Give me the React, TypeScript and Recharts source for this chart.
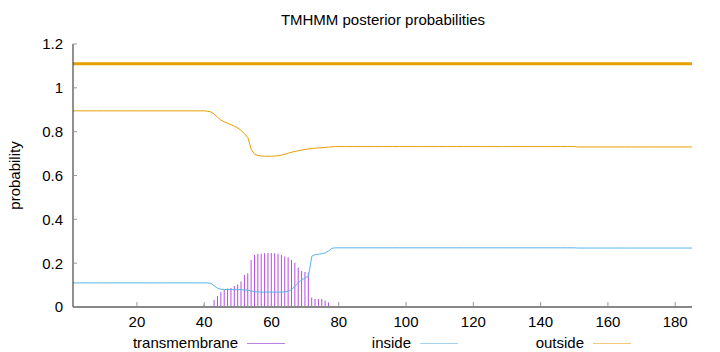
import { Bar, ComposedChart, Line, ReferenceLine, XAxis, YAxis } from "recharts";

// per-residue posterior probabilities, residue 1..185
const outside = [
  0.895, 0.895, 0.895, 0.895, 0.895, 0.895, 0.895, 0.895, 0.895, 0.895,
  0.895, 0.895, 0.895, 0.895, 0.895, 0.895, 0.895, 0.895, 0.895, 0.895,
  0.895, 0.895, 0.895, 0.895, 0.895, 0.895, 0.895, 0.895, 0.895, 0.895,
  0.895, 0.895, 0.895, 0.895, 0.895, 0.895, 0.895, 0.895, 0.895, 0.895,
  0.893, 0.89, 0.88, 0.865, 0.852, 0.845, 0.838, 0.832, 0.825, 0.817,
  0.805, 0.79, 0.772, 0.718, 0.697, 0.691, 0.689, 0.688, 0.688, 0.688,
  0.689, 0.69, 0.693, 0.697, 0.702, 0.706, 0.71, 0.713, 0.716, 0.719,
  0.721, 0.723, 0.725, 0.726, 0.727, 0.728, 0.73, 0.731, 0.732, 0.732,
  0.732, 0.732, 0.732, 0.732, 0.732, 0.732, 0.732, 0.732, 0.732, 0.732,
  0.732, 0.732, 0.732, 0.732, 0.732, 0.732, 0.732, 0.732, 0.732, 0.732,
  0.732, 0.732, 0.732, 0.732, 0.732, 0.732, 0.732, 0.732, 0.732, 0.732,
  0.732, 0.732, 0.732, 0.732, 0.732, 0.732, 0.732, 0.732, 0.732, 0.732,
  0.732, 0.732, 0.732, 0.732, 0.732, 0.732, 0.732, 0.732, 0.732, 0.732,
  0.732, 0.732, 0.732, 0.732, 0.732, 0.732, 0.732, 0.732, 0.732, 0.732,
  0.732, 0.732, 0.732, 0.732, 0.732, 0.732, 0.732, 0.732, 0.732, 0.732,
  0.73, 0.73, 0.73, 0.73, 0.73, 0.73, 0.73, 0.73, 0.73, 0.73,
  0.73, 0.73, 0.73, 0.73, 0.73, 0.73, 0.73, 0.73, 0.73, 0.73,
  0.73, 0.73, 0.73, 0.73, 0.73, 0.73, 0.73, 0.73, 0.73, 0.73,
  0.73, 0.73, 0.73, 0.73, 0.73,
];

const inside = [
  0.11, 0.11, 0.11, 0.11, 0.11, 0.11, 0.11, 0.11, 0.11, 0.11,
  0.11, 0.11, 0.11, 0.11, 0.11, 0.11, 0.11, 0.11, 0.11, 0.11,
  0.11, 0.11, 0.11, 0.11, 0.11, 0.11, 0.11, 0.11, 0.11, 0.11,
  0.11, 0.11, 0.11, 0.11, 0.11, 0.11, 0.11, 0.11, 0.11, 0.11,
  0.11, 0.108, 0.096, 0.085, 0.081, 0.08, 0.08, 0.08, 0.079, 0.079,
  0.079, 0.078, 0.077, 0.073, 0.07, 0.069, 0.068, 0.068, 0.068, 0.068,
  0.068, 0.068, 0.068, 0.069, 0.072, 0.08, 0.095, 0.11, 0.124, 0.133,
  0.14, 0.232, 0.239, 0.241, 0.243, 0.247, 0.256, 0.268, 0.27, 0.27,
  0.27, 0.27, 0.27, 0.27, 0.27, 0.27, 0.27, 0.27, 0.27, 0.27,
  0.27, 0.27, 0.27, 0.27, 0.27, 0.27, 0.27, 0.27, 0.27, 0.27,
  0.27, 0.27, 0.27, 0.27, 0.27, 0.27, 0.27, 0.27, 0.27, 0.27,
  0.27, 0.27, 0.27, 0.27, 0.27, 0.27, 0.27, 0.27, 0.27, 0.27,
  0.27, 0.27, 0.27, 0.27, 0.27, 0.27, 0.27, 0.27, 0.27, 0.27,
  0.27, 0.27, 0.27, 0.27, 0.27, 0.27, 0.27, 0.27, 0.27, 0.27,
  0.27, 0.27, 0.27, 0.27, 0.27, 0.27, 0.27, 0.27, 0.27, 0.27,
  0.269, 0.269, 0.269, 0.269, 0.269, 0.269, 0.269, 0.269, 0.269, 0.269,
  0.269, 0.269, 0.269, 0.269, 0.269, 0.269, 0.269, 0.269, 0.269, 0.269,
  0.269, 0.269, 0.269, 0.269, 0.269, 0.269, 0.269, 0.269, 0.269, 0.269,
  0.269, 0.269, 0.269, 0.269, 0.269,
];

const transmembrane = [
  0, 0, 0, 0, 0, 0, 0, 0, 0, 0,
  0, 0, 0, 0, 0, 0, 0, 0, 0, 0,
  0, 0, 0, 0, 0, 0, 0, 0, 0, 0,
  0, 0, 0, 0, 0, 0, 0, 0, 0, 0.01,
  0.005, 0.006, 0.032, 0.05, 0.068, 0.08, 0.084, 0.087, 0.096, 0.103,
  0.116, 0.146, 0.154, 0.214, 0.237, 0.243, 0.243, 0.245, 0.246, 0.246,
  0.245, 0.243, 0.237, 0.23, 0.227, 0.214, 0.202, 0.18, 0.164, 0.16,
  0.157, 0.043, 0.037, 0.036, 0.036, 0.03, 0.02, 0.002, 0, 0.005,
  0, 0, 0, 0, 0, 0, 0, 0, 0, 0,
  0, 0, 0, 0, 0, 0, 0, 0, 0, 0,
  0, 0, 0, 0, 0, 0, 0, 0, 0, 0,
  0, 0, 0, 0, 0, 0, 0, 0, 0, 0,
  0, 0, 0, 0, 0, 0, 0, 0, 0, 0,
  0, 0, 0, 0, 0, 0, 0, 0, 0, 0,
  0, 0, 0, 0, 0, 0, 0, 0, 0, 0,
  0, 0.003, 0.003, 0.003, 0.003, 0.003, 0.003, 0.003, 0.003, 0.003,
  0.003, 0.003, 0.003, 0.003, 0.003, 0.003, 0.003, 0.003, 0.003, 0.003,
  0.003, 0.003, 0.003, 0.003, 0.003, 0, 0, 0, 0, 0,
  0, 0, 0, 0, 0,
];

// predicted topology: the whole sequence is outside
const topologyLevel = 1.11;

const xTicks = [20, 40, 60, 80, 100, 120, 140, 160, 180];
const yTicks = [0, 0.2, 0.4, 0.6, 0.8, 1, 1.2];

const TM_COLOR = "#9400d3";
const IN_COLOR = "#56b4e9";
const OUT_COLOR = "#e69f00";
const FONT = "'Liberation Sans', Arial, sans-serif";
const FS = 15;
const TICK_COLOR = "#999";

const rows = outside.map((v, i) => ({
  residue: i + 1,
  outside: v,
  inside: inside[i],
  tm: transmembrane[i],
}));

function BottomTick({ x, y, payload }: any) {
  const base = y - 9;
  return (
    <g>
      <line x1={x} x2={x} y1={base - 1} y2={base - 5} stroke={TICK_COLOR} />
      <text x={x} y={y} dy="0.71em" textAnchor="middle" fontSize={FS} fontFamily={FONT} fill="#000">
        {payload.value}
      </text>
    </g>
  );
}

function TopTick({ x, y }: any) {
  return <line x1={x} x2={x} y1={y} y2={y + 4} stroke={TICK_COLOR} />;
}

function LeftTick({ x, y, payload }: any) {
  const base = x + 10;
  return (
    <g>
      <line x1={base} x2={base + 4} y1={y} y2={y} stroke={TICK_COLOR} />
      <text x={x} y={y} dy="0.36em" textAnchor="end" fontSize={FS} fontFamily={FONT} fill="#000">
        {payload.value}
      </text>
    </g>
  );
}

function RightTick({ x, y }: any) {
  return <line x1={x - 1} x2={x - 5} y1={y} y2={y} stroke={TICK_COLOR} />;
}

const legendItems = [
  { label: "transmembrane", color: "#bb80e6", end: 238 },
  { label: "inside", color: "#a6d4f0", end: 411 },
  { label: "outside", color: "#f0c97a", end: 584 },
];

export default function App() {
  return (
    <div style={{ position: "absolute", left: 0, top: 0, width: 720, height: 352, background: "#fff", fontFamily: FONT }}>
      <div
        style={{
          position: "absolute",
          left: 0,
          width: 766,
          top: 11,
          textAlign: "center",
          fontSize: FS,
          lineHeight: "17px",
          color: "#000",
        }}
      >
        TMHMM posterior probabilities
      </div>
      <ComposedChart
        width={720}
        height={352}
        data={rows}
        margin={{ top: 44, right: 28, bottom: 0, left: 0 }}
      >
        <XAxis
          dataKey="residue"
          type="number"
          domain={[1, 185]}
          ticks={xTicks}
          allowDataOverflow
          height={45}
          tickSize={0}
          tickMargin={9}
          tick={<BottomTick />}
          axisLine={{ stroke: "#888", strokeWidth: 2 }}
          tickLine={false}
        />
        <XAxis
          xAxisId="top"
          orientation="top"
          type="number"
          domain={[1, 185]}
          ticks={xTicks}
          allowDataOverflow
          height={0}
          tickSize={0}
          tickMargin={0}
          tick={<TopTick />}
          axisLine={{ stroke: "#222" }}
          tickLine={false}
        />
        <YAxis
          type="number"
          domain={[0, 1.2]}
          ticks={yTicks}
          allowDataOverflow
          width={73}
          tickSize={0}
          tickMargin={10}
          tick={<LeftTick />}
          axisLine={{ stroke: "#222" }}
          tickLine={false}
          label={({ viewBox }: any) => {
            const cx = 14;
            const cy = viewBox.y + viewBox.height / 2;
            return (
              <text
                x={cx}
                y={cy}
                transform={`rotate(-90, ${cx}, ${cy})`}
                textAnchor="middle"
                dominantBaseline="central"
                fontSize={FS}
                fontFamily={FONT}
                fill="#000"
              >
                probability
              </text>
            );
          }}
        />
        <YAxis
          yAxisId="right"
          orientation="right"
          type="number"
          domain={[0, 1.2]}
          ticks={yTicks}
          allowDataOverflow
          width={0}
          tickSize={0}
          tickMargin={0}
          tick={<RightTick />}
          axisLine={{ stroke: "#888", strokeWidth: 2 }}
          tickLine={false}
        />
        <Bar dataKey="tm" barSize={1} fill={TM_COLOR} fillOpacity={0.7} isAnimationActive={false} />
        <Line
          type="linear"
          dataKey="inside"
          stroke={IN_COLOR}
          strokeWidth={1}
          dot={false}
          activeDot={false}
          isAnimationActive={false}
        />
        <Line
          type="linear"
          dataKey="outside"
          stroke={OUT_COLOR}
          strokeWidth={1}
          dot={false}
          activeDot={false}
          isAnimationActive={false}
        />
        <ReferenceLine y={topologyLevel} stroke={OUT_COLOR} strokeWidth={3} />
      </ComposedChart>
      {legendItems.map((item) => (
        <div key={item.label}>
          <div
            style={{
              position: "absolute",
              right: 720 - item.end,
              top: 334,
              fontSize: FS,
              lineHeight: "17px",
              color: "#000",
              whiteSpace: "nowrap",
            }}
          >
            {item.label}
          </div>
          <div
            style={{
              position: "absolute",
              left: item.end + 9,
              top: 343,
              width: 38,
              height: 1,
              background: item.color,
            }}
          />
        </div>
      ))}
    </div>
  );
}
